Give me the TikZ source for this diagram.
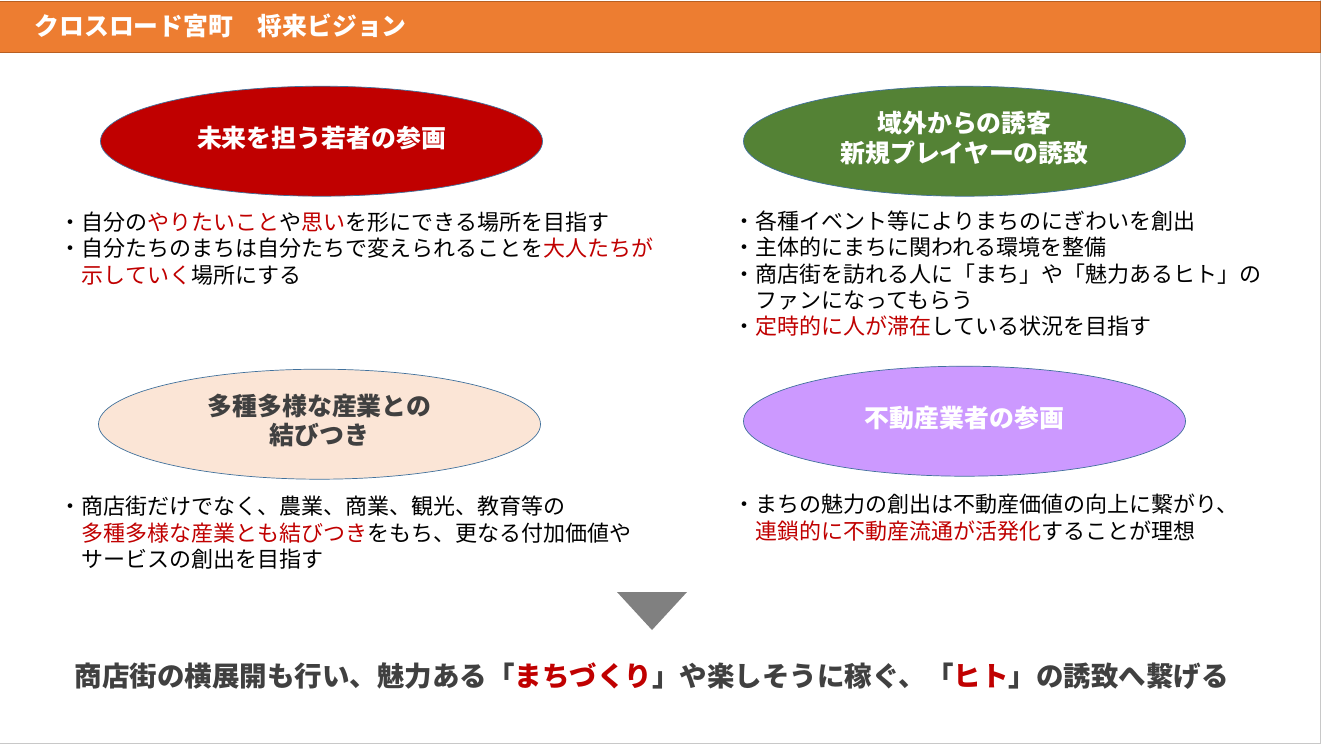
\documentclass[tikz,border=0pt]{standalone}
\usepackage{fontspec}
\setmainfont{Noto Sans CJK JP}
\usetikzlibrary{shapes.geometric}
\definecolor{hdr}{HTML}{ED7D31}
\definecolor{hdrline}{HTML}{B85F22}
\definecolor{acc}{HTML}{C00000}
\definecolor{ovline}{HTML}{41719C}
\definecolor{ogreen}{HTML}{548235}
\definecolor{opeach}{HTML}{FBE5D6}
\definecolor{opurple}{HTML}{CC99FF}
\definecolor{dk}{HTML}{404040}
\definecolor{edge}{HTML}{C8C8C8}
\newcommand{\rd}[1]{\textcolor{acc}{#1}}
\tikzset{
  oval/.style={ellipse,draw=ovline,line width=0.7pt,minimum width=442pt,minimum height=110pt,inner sep=0pt,align=center,font=\fontsize{24.9}{30}\selectfont\bfseries},
  bodyline/.style={anchor=base west,inner sep=0pt,text=black,font=\fontsize{22}{26}\selectfont},
  headline/.style={anchor=base west,inner sep=0pt,text=white,font=\fontsize{24.8}{30}\selectfont\bfseries},
  concl/.style={anchor=base west,inner sep=0pt,text=dk,font=\fontsize{27.5}{32}\selectfont\bfseries},
}
\begin{document}
\begin{tikzpicture}[x=1pt,y=-1pt]
\useasboundingbox (0,0) rectangle (1324,745);
\fill[white] (0,0) rectangle (1324,745);
\draw[edge,line width=1.5pt] (0,743.5) -- (1320.5,743.5) -- (1320.5,0);
\draw[hdrline,fill=hdr,line width=1pt] (-1,1) rectangle (1320,52.5);
\node[headline] (head) at (34.5,35) {クロスロード宮町　将来ビジョン};
\node[oval,fill=acc,text=white] (o1) at (321.5,141.2) {\raisebox{9pt}{未来を担う若者の参画}};
\node[oval,fill=ogreen,text=white] (o2) at (964.5,141.2) {\raisebox{8.5pt}{\shortstack{域外からの誘客\\[2.5pt]新規プレイヤーの誘致}}};
\node[oval,fill=opeach,text=dk] (o3) at (319.5,424.2) {\raisebox{10.5pt}{\shortstack{多種多様な産業との\\[2.5pt]結びつき}}};
\node[oval,fill=opurple,text=white] (o4) at (964.5,421.2) {\raisebox{9pt}{不動産業者の参画}};
\node[bodyline] (a1) at (59.5,230.5) {・自分の\rd{やりたいこと}や\rd{思い}を形にできる場所を目指す};
\node[bodyline] (a2) at (59.5,256.5) {・自分たちのまちは自分たちで変えられることを\rd{大人たちが}};
\node[bodyline] (a3) at (81.5,283) {\rd{示していく}場所にする};
\node[bodyline] (b1) at (733.5,229.5) {・各種イベント等によりまちのにぎわいを創出};
\node[bodyline] (b2) at (733.5,255.5) {・主体的にまちに関われる環境を整備};
\node[bodyline] (b3) at (733.5,282) {・商店街を訪れる人に「まち」や「魅力あるヒト」の};
\node[bodyline] (b4) at (755.5,308.5) {ファンになってもらう};
\node[bodyline] (b5) at (733.5,334.5) {・\rd{定時的に人が滞在}している状況を目指す};
\node[bodyline] (c1) at (59.5,514.5) {・商店街だけでなく、農業、商業、観光、教育等の};
\node[bodyline] (c2) at (81.5,541) {\rd{多種多様な産業とも結びつき}をもち、更なる付加価値や};
\node[bodyline] (c3) at (81.5,567) {サービスの創出を目指す};
\node[bodyline] (d1) at (733.5,512.5) {・まちの魅力の創出は不動産価値の向上に繋がり、};
\node[bodyline] (d2) at (755.5,539) {\rd{連鎖的に不動産流通が活発化}することが理想};
\fill[fill=black!50] (617,592) -- (687,592) -- (652,630) -- cycle;
\node[concl] (end) at (74.5,686) {商店街の横展開も行い、魅力ある「\rd{まちづくり}」や楽しそうに稼ぐ、「\rd{ヒト}」の誘致へ繋げる};
\end{tikzpicture}
\end{document}
